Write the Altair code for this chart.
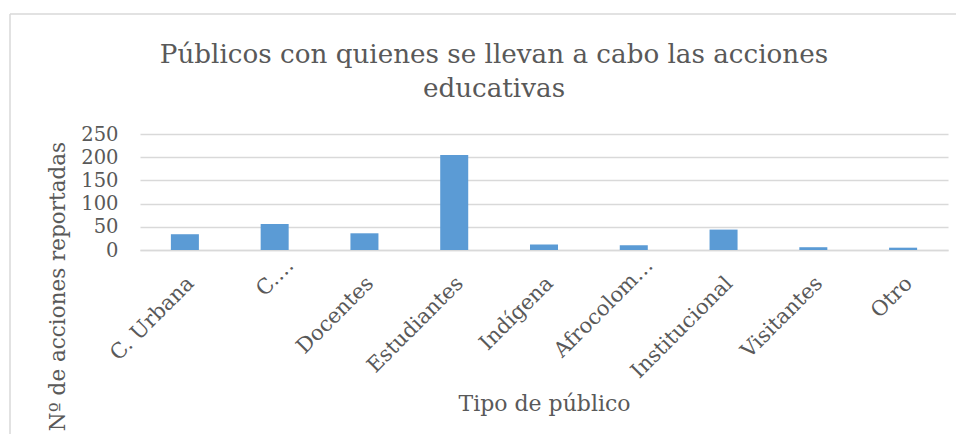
import altair as alt
import pandas as pd

categories = ["C. Urbana", "C.…", "Docentes", "Estudiantes", "Indígena",
              "Afrocolom…", "Institucional", "Visitantes", "Otro"]
values = [34, 56, 36, 205, 12, 10, 44, 6, 5]
y_ticks = [0, 50, 100, 150, 200, 250]

title_lines = ["Públicos con quienes se llevan a cabo las acciones", "educativas"]
x_title = "Tipo de público"
y_title = "Nº de acciones reportadas"

df = pd.DataFrame({"Tipo": categories, "N": values})

FONT = "DejaVu Serif"
GRAY = "#595959"
GRID = "#D9D9D9"

truncated = "indexof(datum.label, '…') >= 0"

bars = alt.Chart(df).mark_bar(color="#5B9BD5").encode(
    x=alt.X(
        "Tipo:N",
        sort=categories,
        scale=alt.Scale(paddingInner=0.688, paddingOuter=0.344),
        axis=alt.Axis(
            title=x_title,
            labelAngle=-45,
            labelAlign="right",
            labelBaseline="middle",
            labelPadding={"condition": {"test": truncated, "value": 12}, "value": 30},
            labelOffset={"condition": {"test": truncated, "value": 16}, "value": 6},
            labelFont=FONT,
            labelFontSize=21,
            labelColor=GRAY,
            labelLimit=0,
            labelOverlap=False,
            ticks=False,
            domainColor=GRID,
            domainWidth=1.5,
            grid=False,
            titleFont=FONT,
            titleFontSize=22,
            titleFontWeight="normal",
            titleColor=GRAY,
            titleBaseline="middle",
            titleAlign="center",
            titleX=404,
            titleY=153,
        ),
    ),
    y=alt.Y(
        "N:Q",
        scale=alt.Scale(domain=[0, 250], nice=False),
        axis=alt.Axis(
            values=y_ticks,
            title=y_title,
            labelFont=FONT,
            labelFontSize=19.5,
            labelColor=GRAY,
            labelPadding=22,
            ticks=False,
            domain=False,
            gridColor=GRID,
            gridWidth=1.5,
            titleFont=FONT,
            titleFontSize=21.5,
            titleFontWeight="normal",
            titleColor=GRAY,
            titleAngle=-90,
            titleBaseline="middle",
            titleAlign="center",
            titleX=-82,
            titleY=152,
        ),
    ),
)

frame_df = pd.DataFrame({"k": [0]})
left_border = alt.Chart(frame_df).mark_rule(color=GRID, strokeWidth=1.5).encode(
    x=alt.value(-130), y=alt.value(-120), y2=alt.value(310)
)
top_border = alt.Chart(frame_df).mark_rule(color=GRID, strokeWidth=1.5).encode(
    x=alt.value(-130), x2=alt.value(830), y=alt.value(-120)
)

chart = alt.layer(left_border, top_border, bars).properties(
    width=808,
    height=116,
    autosize="none",
    padding={"left": 132, "top": 126, "right": 8, "bottom": 184},
    title=alt.TitleParams(
        text=title_lines,
        font=FONT,
        fontSize=26.2,
        fontWeight="normal",
        color=GRAY,
        anchor="middle",
        frame="group",
        dx=-50,
        offset=0,
        dy=89,
        lineHeight=34,
    ),
).configure_view(stroke=None)

chart.save("out.html", embed_options={"renderer": "svg", "actions": False})
